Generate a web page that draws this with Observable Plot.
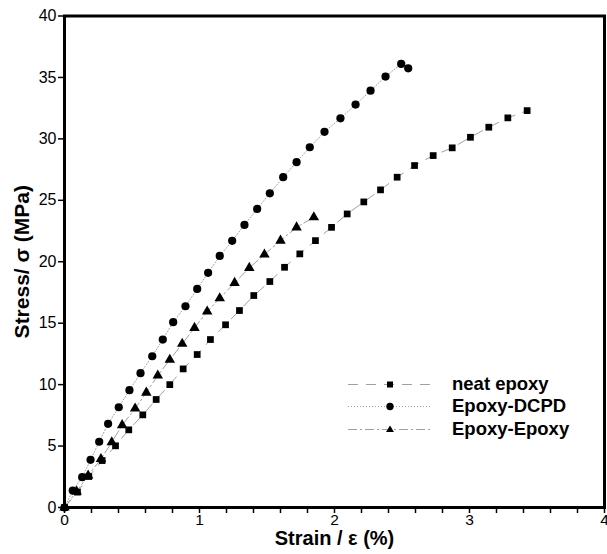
<!DOCTYPE html>
<html><head><meta charset="utf-8">
<script src="https://cdn.jsdelivr.net/npm/d3@7"></script>
<script src="https://cdn.jsdelivr.net/npm/@observablehq/plot@0.6"></script>
<style>
body{margin:0;background:#fff;font-family:"Liberation Sans",Arial,sans-serif;}
#wrap{position:relative;width:607px;height:554px;}
#legend{position:absolute;left:348px;top:372.5px;}
.row{display:flex;align-items:center;height:22.5px;}
.row svg{display:block}
.row span{font-weight:bold;font-size:18.5px;margin-left:20px;color:#000;line-height:1}
</style></head><body><div id="wrap"></div>
<script>
// ---- data ----
const xTicks = [0, 1, 2, 3, 4];
const xMinorTicks = [0.2, 0.4, 0.6, 0.8, 1.2, 1.4, 1.6, 1.8, 2.2, 2.4, 2.6, 2.8, 3.2, 3.4, 3.6, 3.8];
const yTicks = [0, 5, 10, 15, 20, 25, 30, 35, 40];
const xTitle = "Strain / ε (%)";
const yTitle = "Stress/ σ (MPa)";
const seriesNames = ["neat epoxy", "Epoxy-DCPD", "Epoxy-Epoxy"];

const strainNeat = [0, 0.096, 0.18, 0.279, 0.378, 0.476, 0.58, 0.679, 0.78, 0.879, 0.983, 1.081, 1.193, 1.296, 1.402, 1.521, 1.63, 1.743, 1.859, 1.978, 2.094, 2.217, 2.341, 2.464, 2.593, 2.731, 2.872, 3.007, 3.143, 3.284, 3.427];
const stressNeat = [0, 1.25, 2.52, 3.82, 5.02, 6.32, 7.54, 8.79, 10.0, 11.28, 12.45, 13.67, 14.87, 16.03, 17.25, 18.39, 19.55, 20.64, 21.72, 22.8, 23.89, 24.87, 25.85, 26.88, 27.83, 28.64, 29.27, 30.13, 30.95, 31.71, 32.3];

const strainDCPD = [0, 0.061, 0.131, 0.193, 0.257, 0.323, 0.402, 0.481, 0.563, 0.65, 0.728, 0.805, 0.896, 0.983, 1.064, 1.15, 1.242, 1.333, 1.427, 1.521, 1.62, 1.719, 1.817, 1.926, 2.044, 2.156, 2.267, 2.378, 2.494, 2.546];
const stressDCPD = [0, 1.38, 2.47, 3.88, 5.35, 6.81, 8.16, 9.55, 10.93, 12.31, 13.67, 15.08, 16.38, 17.79, 19.1, 20.47, 21.7, 23.0, 24.3, 25.57, 26.88, 28.1, 29.32, 30.57, 31.67, 32.79, 33.92, 35.07, 36.1, 35.74];

const strainEE = [0, 0.09, 0.175, 0.27, 0.35, 0.427, 0.523, 0.606, 0.691, 0.78, 0.872, 0.963, 1.057, 1.15, 1.26, 1.369, 1.481, 1.6, 1.719, 1.847];
const stressEE = [0, 1.3, 2.6, 3.95, 5.31, 6.7, 8.05, 9.35, 10.74, 12.02, 13.32, 14.62, 15.95, 17.03, 18.28, 19.5, 20.59, 21.72, 22.8, 23.62];

// ---- build ----
const toRows = (xs, ys) => xs.map((x, i) => ({x, y: ys[i]}));
const neat = toRows(strainNeat, stressNeat);
const dcpd = toRows(strainDCPD, stressDCPD);
const ee = toRows(strainEE, stressEE);

const lineColor = "#a0a0a0";
const styles = [
  {dash: "10,8", symbol: "square", r: 3.8},
  {dash: "1,2", symbol: "circle", r: 4.1},
  {dash: "9,3,2,3", symbol: "triangle", r: 3.9}
];
const datasets = [neat, dcpd, ee];

const marks = [
  Plot.axisX(xMinorTicks, {tickSize: 6, tickFormat: () => "", strokeWidth: 1.5, label: null}),
  Plot.axisX(xTicks, {tickSize: 6, tickPadding: 0, tickFormat: d => String(d), fontSize: 15.5, strokeWidth: 1.5, label: null}),
  Plot.axisY(yTicks, {tickSize: 6, tickPadding: 2, tickFormat: d => String(d), strokeWidth: 1.5, label: null}),
];
datasets.forEach((data, i) => {
  marks.push(Plot.line(data, {x: "x", y: "y", stroke: lineColor, strokeWidth: 1, strokeDasharray: styles[i].dash}));
});
datasets.forEach((data, i) => {
  marks.push(Plot.dot(data, {x: "x", y: "y", symbol: () => styles[i].symbol, r: styles[i].r, fill: "#000", stroke: "none"}));
});
marks.push(Plot.frame({stroke: "#000", strokeWidth: 3}));
marks.push(Plot.text([xTitle], {text: d => d, frameAnchor: "bottom", textAnchor: "middle", dy: 37, fontWeight: "bold", fontSize: 20, fill: "#000"}));
marks.push(Plot.text([yTitle], {text: d => d, frameAnchor: "left", textAnchor: "middle", dx: -42, rotate: -90, fontWeight: "bold", fontSize: 21, fill: "#000"}));

const chart = Plot.plot({
  width: 607, height: 554,
  marginLeft: 64, marginRight: 3, marginTop: 15.5, marginBottom: 47,
  x: {domain: [0, 4]},
  y: {domain: [0, 40]},
  style: {fontFamily: "'Liberation Sans', Arial, sans-serif", fontSize: "16px", color: "#000", background: "#fff"},
  marks
});
const wrap = document.getElementById("wrap");
wrap.appendChild(chart);

// ---- legend ----
const legend = document.createElement("div");
legend.id = "legend";
const markerSvg = (sym) => {
  if (sym === "square") return '<rect x="39" y="8.5" width="6" height="6" fill="#000"/>';
  if (sym === "circle") return '<circle cx="42" cy="11.5" r="3.7" fill="#000"/>';
  return '<path d="M42,7.5 L46,14 L38,14 Z" fill="#000"/>';
};
seriesNames.forEach((name, i) => {
  const row = document.createElement("div");
  row.className = "row";
  row.innerHTML = `<svg width="84" height="22"><line x1="0" x2="84" y1="11.5" y2="11.5" stroke="${lineColor}" stroke-width="1" stroke-dasharray="${styles[i].dash}"/>${markerSvg(styles[i].symbol)}</svg><span>${name}</span>`;
  legend.appendChild(row);
});
wrap.appendChild(legend);
</script></body></html>
